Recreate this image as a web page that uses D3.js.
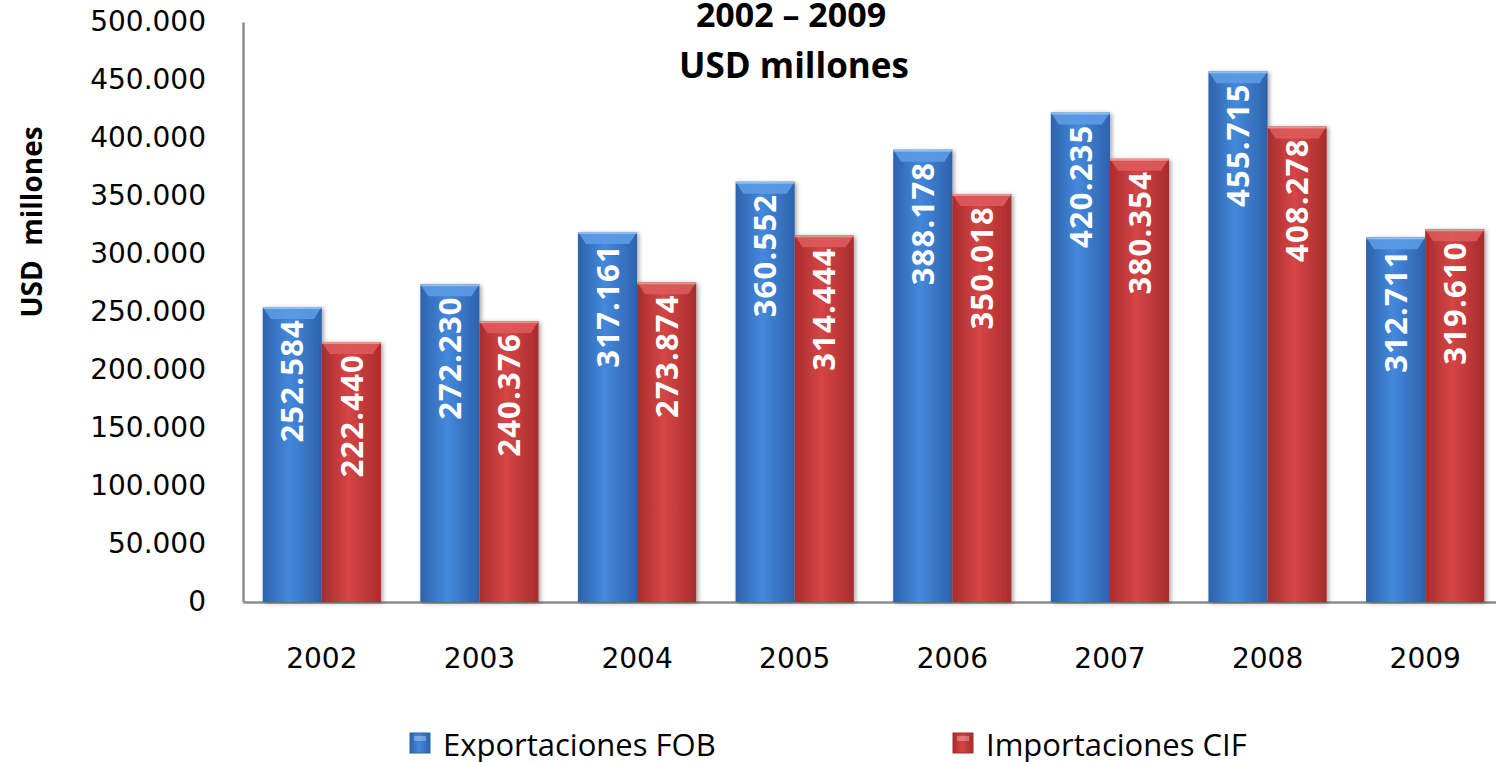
<!DOCTYPE html>
<html>
<head>
<meta charset="utf-8">
<script src="https://cdn.jsdelivr.net/npm/d3@7"></script>
<style>
body { margin: 0; background: #fff; overflow: hidden; }
</style>
</head>
<body>
<script>
var years = ["2002", "2003", "2004", "2005", "2006", "2007", "2008", "2009"];
var exportaciones = [252584, 272230, 317161, 360552, 388178, 420235, 455715, 312711];
var importaciones = [222440, 240376, 273874, 314444, 350018, 380354, 408278, 319610];
var seriesNames = ["Exportaciones FOB", "Importaciones CIF"];
var yTicks = [0, 50000, 100000, 150000, 200000, 250000, 300000, 350000, 400000, 450000, 500000];

var W = 1496, H = 762;
var mLeft = 243, mRight = 1504, mTop = 22, mBottom = 602;
var sans = "'Open Sans', sans-serif";
var dejavu = "'DejaVu Sans', sans-serif";

var svg = d3.select("body").append("svg")
    .attr("width", W).attr("height", H);

var defs = svg.append("defs");
function grad(id, dark, light){
    var g = defs.append("linearGradient").attr("id", id)
	.attr("x1", "0%").attr("x2", "100%").attr("y1", "0%").attr("y2", "0%");
    g.append("stop").attr("offset", "0%").attr("stop-color", dark);
    g.append("stop").attr("offset", "45%").attr("stop-color", light);
    g.append("stop").attr("offset", "100%").attr("stop-color", dark);
}
grad("gBlue", "#2d62ab", "#4489dc");
grad("gRed", "#a82c2c", "#d64545");
var sh = defs.append("filter").attr("id", "shadow")
    .attr("x", "-20%").attr("y", "-5%").attr("width", "140%").attr("height", "110%");
sh.append("feDropShadow").attr("dx", 2).attr("dy", 1).attr("stdDeviation", 2)
    .attr("flood-color", "#000").attr("flood-opacity", 0.35);

var x = d3.scaleBand().domain(years).range([mLeft, mRight]).paddingInner(0.25).paddingOuter(0.125);
var xs = d3.scaleBand().domain([0, 1]).range([0, x.bandwidth()]);
var y = d3.scaleLinear().domain([0, 500000]).range([mBottom, mTop]);

var fmt = function(v){ return d3.format(",")(v).replace(/,/g, "."); };

// axes
var yAxis = svg.append("g").attr("transform", "translate(" + mLeft + ",0)")
    .call(d3.axisLeft(y).tickValues(yTicks).tickSize(0).tickPadding(37).tickFormat(fmt));
yAxis.select(".domain").attr("stroke", "#8c8c8c").attr("stroke-width", 2.5);
yAxis.selectAll("text").attr("font-size", 28).attr("fill", "#000")
    .attr("font-family", dejavu);

var xAxis = svg.append("g").attr("transform", "translate(0," + mBottom + ")")
    .call(d3.axisBottom(x).tickSize(0).tickPadding(46));
xAxis.select(".domain").attr("stroke", "#8c8c8c").attr("stroke-width", 2.5);
xAxis.selectAll("text").attr("font-size", 28).attr("fill", "#000")
    .attr("font-family", dejavu);

var data = [exportaciones, importaciones];
var fills = ["url(#gBlue)", "url(#gRed)"];
var tops = ["#5b9be6", "#de5a5a"];

data.forEach(function(vals, s){
    var g = svg.append("g");
    vals.forEach(function(v, i){
	var bx = x(years[i]) + xs(s), bw = xs.bandwidth(), by = y(v) - 2;
	g.append("rect").attr("x", bx).attr("y", by)
	    .attr("width", bw).attr("height", mBottom - by)
	    .attr("fill", fills[s]).attr("filter", "url(#shadow)");
	// bevel at top
	g.append("path")
	    .attr("d", "M" + bx + "," + by + "h" + bw + "l-8,12h" + (-(bw - 16)) + "z")
	    .attr("fill", tops[s]).attr("opacity", 0.9);
	g.append("rect").attr("x", bx).attr("y", by).attr("width", bw).attr("height", 2)
	    .attr("fill", "#fff").attr("opacity", 0.35);
	g.append("text")
	    .attr("transform", "translate(" + (bx + bw / 2) + "," + (by + 12) + ") rotate(-90)")
	    .attr("text-anchor", "end").attr("dy", "0.36em")
	    .attr("font-family", sans)
	    .attr("font-weight", "bold").attr("font-size", 31)
	    .attr("letter-spacing", 1.2)
	    .attr("fill", "#fff").text(fmt(v));
    });
});

// titles
svg.append("text").attr("x", 791).attr("y", 27).attr("text-anchor", "middle")
    .attr("font-family", sans).attr("font-weight", "bold")
    .attr("font-size", 34).text("2002 – 2009");
svg.append("text").attr("x", 794).attr("y", 78).attr("text-anchor", "middle")
    .attr("font-family", sans).attr("font-weight", "bold")
    .attr("font-size", 35).text("USD millones");
svg.append("text").attr("transform", "translate(42,222) rotate(-90)")
    .attr("text-anchor", "middle")
    .attr("font-family", sans).attr("font-weight", "bold")
    .attr("font-size", 28).attr("xml:space", "preserve").text("USD  millones");

// legend
var legX = [410, 953];
seriesNames.forEach(function(n, s){
    var lg = svg.append("g").attr("transform", "translate(" + legX[s] + ",733)");
    lg.append("rect").attr("width", 20).attr("height", 20).attr("fill", fills[s])
	.attr("stroke", s ? "#a82c2c" : "#2d62ab").attr("stroke-width", 1);
    lg.append("rect").attr("x", 4).attr("y", 3).attr("width", 12).attr("height", 5)
	.attr("fill", "#fff").attr("opacity", 0.3);
    lg.append("text").attr("x", 33).attr("y", 12).attr("dy", "0.36em")
	.attr("font-family", sans)
	.attr("font-size", 31).attr("fill", "#000").text(n);
});
</script>
</body>
</html>
